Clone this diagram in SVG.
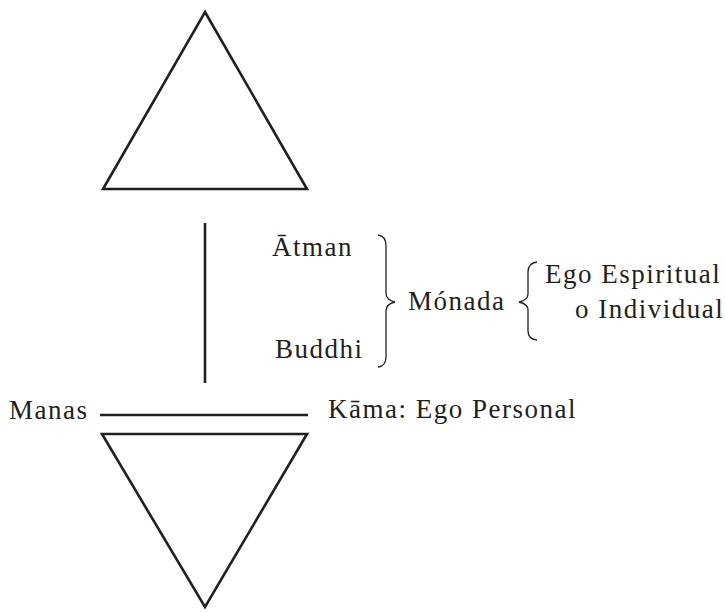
<svg xmlns="http://www.w3.org/2000/svg" width="725" height="612" viewBox="0 0 725 612">
<rect width="725" height="612" fill="#fff"/>
<g fill="none" stroke="#231f20" stroke-width="2.6">
<g id="upper-triangle"><polygon points="205,12 307,189 103,189"/></g>
<g id="lower-triangle"><polygon points="102,434 307,434 205,607"/></g>
<g id="connectors">
<line x1="205" y1="223" x2="205" y2="383"/>
<line x1="100" y1="415" x2="308" y2="415"/>
</g>
</g>
<g font-family="Liberation Serif, serif" font-size="27" letter-spacing="1.5" fill="#231f20">
<g id="atman"><text x="272" y="256">Ātman</text></g>
<g id="buddhi"><text x="275" y="358">Buddhi</text></g>
<g id="monada"><text x="408" y="310">Mónada</text></g>
<g id="ego-espiritual"><text x="545" y="283">Ego Espiritual</text>
<text x="575" y="318">o Individual</text></g>
<g id="manas"><text x="9" y="419">Manas</text></g>
<g id="kama"><text x="328" y="418">Kāma: Ego Personal</text></g>
</g>
<g fill="none" stroke="#231f20" stroke-width="1.3">
<g id="brace1"><path d="M378,235 Q386,236 386,246 L386,293 Q386,300 395,302 Q386,304 386,311 L386,357 Q386,366 378,367"/></g>
<g id="brace2"><path d="M537,262 Q528,263 528,272 L528,294 Q528,300 519,302 Q528,304 528,310 L528,331 Q528,339 537,340"/></g>
</g>
</svg>
